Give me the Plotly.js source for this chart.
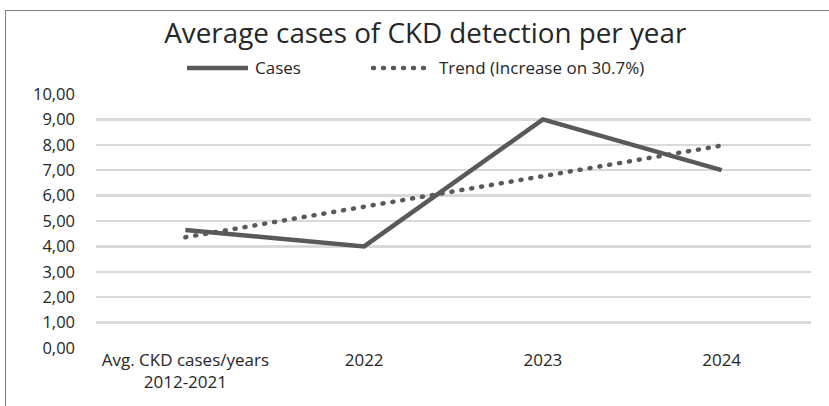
<!DOCTYPE html>
<html><head><meta charset="utf-8">
<script src="https://cdn.plot.ly/plotly-3.0.1.min.js"></script>
<style>
html,body{margin:0;padding:0;background:#fff;}
#wrap{position:relative;width:829px;height:406px;overflow:hidden;}
#chart{width:829px;height:406px;}
#frame{position:absolute;left:5px;top:10px;width:840px;height:420px;border:1px solid #7f7f7f;pointer-events:none;}
#chart .scatterlayer .trace:nth-child(2) path.js-line,
#chart .shapelayer path[data-index="1"]{stroke-linecap:round;}
</style></head>
<body>
<div id="wrap"><div id="chart"></div><div id="frame"></div></div>
<script>
const categories = ["Avg. CKD cases/years<br>2012-2021", "2022", "2023", "2024"];
const casesValues = [4.65, 4.0, 9.0, 7.0];
const trendValues = [4.36, 5.56, 6.77, 7.97];
const yTickValues = [0,1,2,3,4,5,6,7,8,9,10];
const seriesNames = ["Cases", "Trend (Increase on 30.7%)"];

const FONT = "Open Sans, sans-serif";
const COLOR = "#595959";
const DOTS = "1px,9px";
const traces = [
  {x: categories, y: casesValues, name: seriesNames[0], type: "scatter", mode: "lines",
   line: {color: COLOR, width: 4.5}, showlegend: false},
  {x: categories, y: trendValues, name: seriesNames[1], type: "scatter", mode: "lines",
   line: {color: COLOR, width: 4.5, dash: DOTS}, showlegend: false}
];
// custom legend (positioned in paper coordinates)
const LEG_Y = 1.1024;
const shapes = [
  {type: "line", xref: "paper", yref: "paper", x0: 0.1273, x1: 0.2126, y0: LEG_Y, y1: LEG_Y,
   line: {color: COLOR, width: 4.5}},
  {type: "line", xref: "paper", yref: "paper", x0: 0.3874, x1: 0.4643, y0: LEG_Y, y1: LEG_Y,
   line: {color: COLOR, width: 4.5, dash: DOTS}}
];
const annotations = [
  {xref: "paper", yref: "paper", x: 0.2196, y: LEG_Y, xanchor: "left", yanchor: "middle",
   text: seriesNames[0], showarrow: false, font: {family: FONT, size: 17, color: "#262626"}},
  {xref: "paper", yref: "paper", x: 0.4769, y: LEG_Y, xanchor: "left", yanchor: "middle",
   text: seriesNames[1], showarrow: false, font: {family: FONT, size: 17, color: "#262626"}}
];
const layout = {
  width: 829, height: 406,
  separators: ",.",
  paper_bgcolor: "#fff", plot_bgcolor: "#fff",
  margin: {l: 96, r: 18, t: 94, b: 58},
  title: {text: "Average cases of CKD detection per year", x: 0.513, xanchor: "center",
          y: 0.918, yanchor: "middle", font: {family: FONT, size: 27.8, color: "#262626"}},
  showlegend: false,
  shapes: shapes,
  annotations: annotations,
  xaxis: {type: "category", range: [-0.5, 3.5], showgrid: false, zeroline: false, showline: false, ticks: "",
          tickfont: {family: FONT, size: 17, color: "#262626"}, fixedrange: true},
  yaxis: {range: [0, 10], tickvals: yTickValues, tickformat: ".2f", showgrid: true,
          gridcolor: "#d9d9d9", gridwidth: 2.5, zeroline: false, showline: false, ticks: "",
          ticklabelstandoff: 20,
          tickfont: {family: FONT, size: 16.5, color: "#262626"}, fixedrange: true}
};
Plotly.newPlot("chart", traces, layout, {displayModeBar: false, staticPlot: true});
</script>
</body></html>
